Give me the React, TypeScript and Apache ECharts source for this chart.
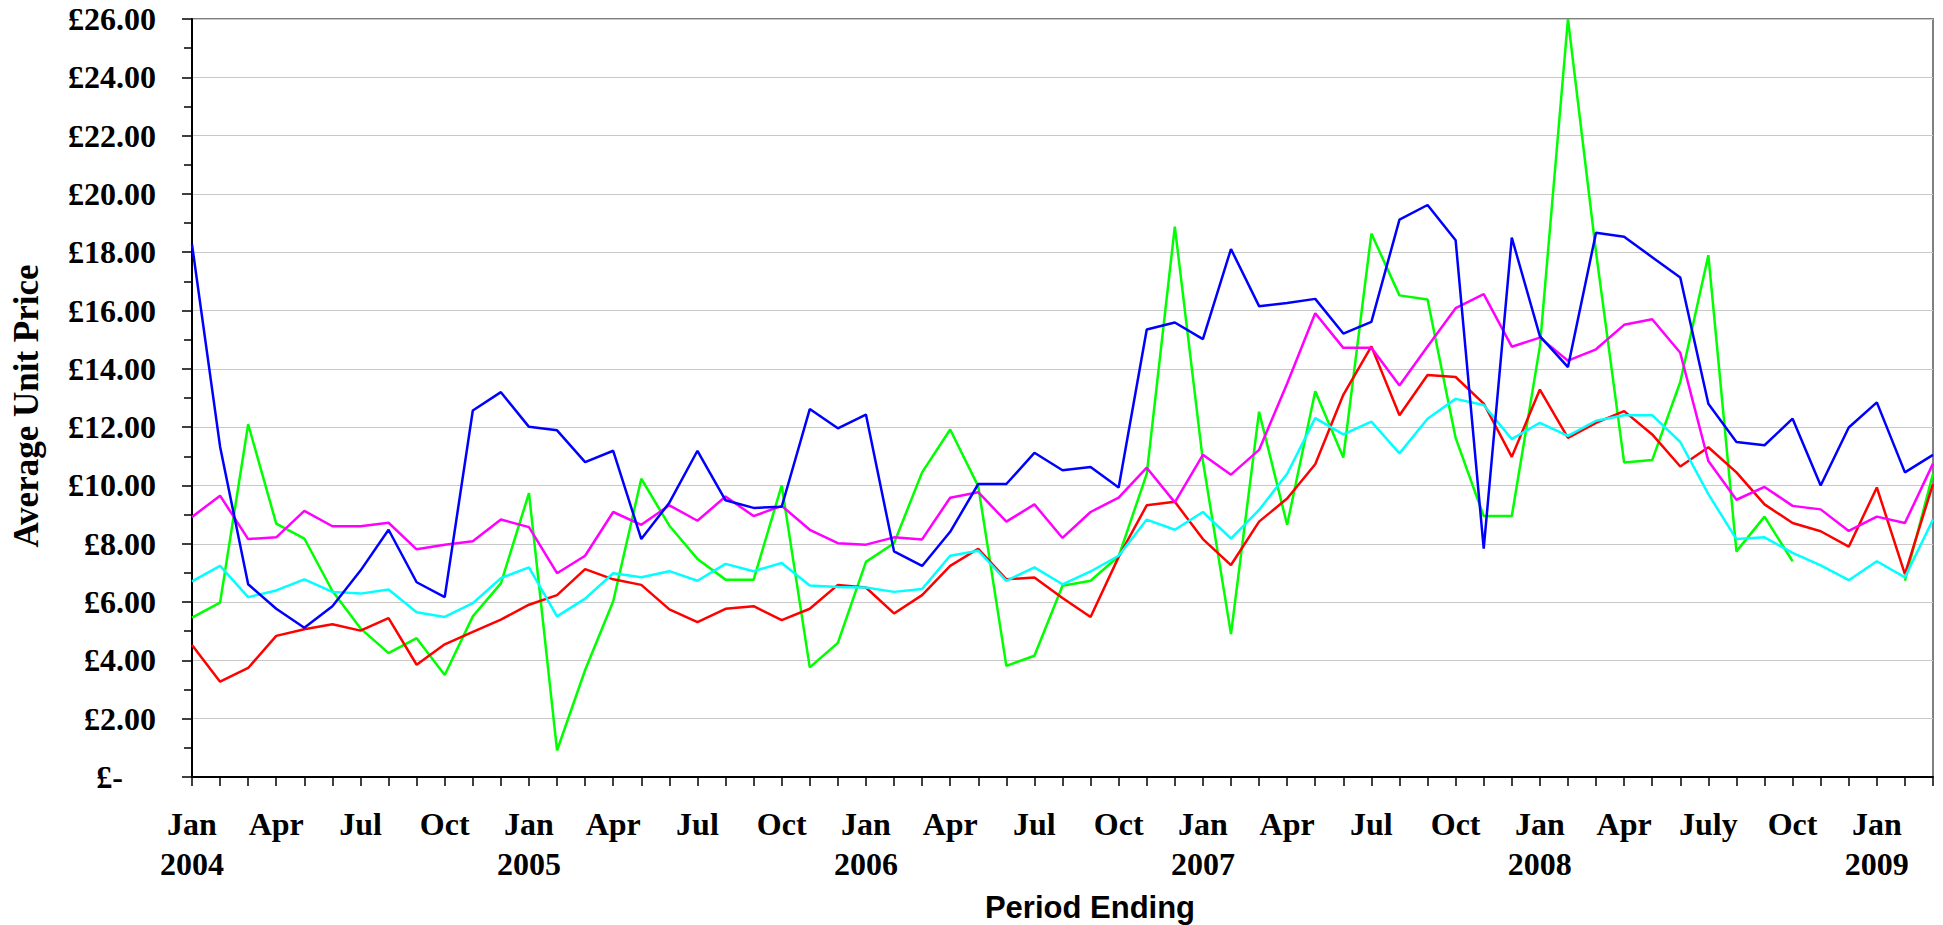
import React, { useEffect, useRef } from "react";
import * as echarts from "echarts";

const categories = [
  "2004-01","2004-02","2004-03","2004-04","2004-05","2004-06","2004-07","2004-08","2004-09","2004-10","2004-11","2004-12",
  "2005-01","2005-02","2005-03","2005-04","2005-05","2005-06","2005-07","2005-08","2005-09","2005-10","2005-11","2005-12",
  "2006-01","2006-02","2006-03","2006-04","2006-05","2006-06","2006-07","2006-08","2006-09","2006-10","2006-11","2006-12",
  "2007-01","2007-02","2007-03","2007-04","2007-05","2007-06","2007-07","2007-08","2007-09","2007-10","2007-11","2007-12",
  "2008-01","2008-02","2008-03","2008-04","2008-05","2008-06","2008-07","2008-08","2008-09","2008-10","2008-11","2008-12",
  "2009-01","2009-02","2009-03",
];

const xTickLabels = [
  "Jan\n2004","Apr","Jul","Oct",
  "Jan\n2005","Apr","Jul","Oct",
  "Jan\n2006","Apr","Jul","Oct",
  "Jan\n2007","Apr","Jul","Oct",
  "Jan\n2008","Apr","July","Oct",
  "Jan\n2009",
];

const blueSeries = [
  18.27, 11.33, 6.61, 5.77, 5.12, 5.86, 7.08, 8.48, 6.68, 6.17, 12.57, 13.20,
  12.01, 11.89, 10.80, 11.19, 8.16, 9.41, 11.19, 9.49, 9.23, 9.27, 12.62, 11.96,
  12.43, 7.74, 7.24, 8.41, 10.05, 10.05, 11.12, 10.52, 10.63, 9.93, 15.35, 15.59,
  15.02, 18.11, 16.15, 16.26, 16.40, 15.21, 15.61, 19.12, 19.62, 18.41, 7.83, 18.50,
  15.12, 14.06, 18.67, 18.53, 17.83, 17.13, 12.80, 11.49, 11.38, 12.29, 10.00, 11.99,
  12.85, 10.45, 11.05,
];

const greenSeries = [
  5.47, 5.98, 12.10, 8.69, 8.18, 6.38, 5.10, 4.25, 4.76, 3.50, 5.51, 6.64,
  9.74, 0.91, 3.67, 6.03, 10.23, 8.62, 7.48, 6.77, 6.77, 10.00, 3.76, 4.60,
  7.38, 8.02, 10.45, 11.92, 9.97, 3.81, 4.16, 6.56, 6.73, 7.57, 10.40, 18.88,
  10.84, 4.90, 12.53, 8.65, 13.23, 10.96, 18.64, 16.52, 16.38, 11.63, 8.95, 8.95,
  14.77, 26.0, 18.0, 10.79, 10.87, 13.55, 17.90, 7.74, 8.93, 7.40, null, null,
  null, 6.73, 10.40,
];

const magentaSeries = [
  8.92, 9.65, 8.16, 8.22, 9.13, 8.60, 8.60, 8.72, 7.81, 7.97, 8.09, 8.83,
  8.57, 6.99, 7.59, 9.09, 8.65, 9.32, 8.79, 9.62, 8.95, 9.30, 8.48, 8.02,
  7.97, 8.22, 8.15, 9.58, 9.77, 8.76, 9.35, 8.20, 9.09, 9.58, 10.61, 9.42,
  11.05, 10.37, 11.22, 13.50, 15.91, 14.72, 14.72, 13.43, 14.77, 16.08, 16.56, 14.76,
  15.07, 14.28, 14.67, 15.51, 15.70, 14.55, 10.84, 9.51, 9.95, 9.30, 9.18, 8.44,
  8.93, 8.71, 10.75,
];

const cyanSeries = [
  6.71, 7.24, 6.17, 6.40, 6.78, 6.35, 6.29, 6.43, 5.65, 5.49, 5.96, 6.82,
  7.19, 5.51, 6.12, 6.99, 6.85, 7.06, 6.73, 7.31, 7.06, 7.34, 6.57, 6.52,
  6.50, 6.35, 6.45, 7.59, 7.76, 6.73, 7.19, 6.61, 7.05, 7.59, 8.83, 8.48,
  9.09, 8.18, 9.16, 10.40, 12.31, 11.75, 12.19, 11.10, 12.29, 12.97, 12.76, 11.59,
  12.15, 11.70, 12.22, 12.41, 12.41, 11.49, 9.70, 8.16, 8.22, 7.69, 7.26, 6.75,
  7.40, 6.85, 8.83,
];

const redSeries = [
  4.53, 3.27, 3.74, 4.84, 5.07, 5.24, 5.02, 5.45, 3.85, 4.55, 4.98, 5.40,
  5.91, 6.24, 7.13, 6.78, 6.59, 5.75, 5.31, 5.77, 5.86, 5.38, 5.77, 6.59,
  6.50, 5.61, 6.24, 7.24, 7.83, 6.78, 6.84, 6.14, 5.49, 7.55, 9.32, 9.44,
  8.16, 7.27, 8.76, 9.55, 10.73, 13.11, 14.77, 12.41, 13.79, 13.72, 12.81, 10.98,
  13.29, 11.63, 12.15, 12.55, 11.75, 10.65, 11.31, 10.45, 9.35, 8.71, 8.43, 7.90,
  9.93, 6.96, 10.05,
];

const yAxisTitle = "Average Unit Price";
const xAxisTitle = "Period Ending";

const SERIF = '"Liberation Serif", "Times New Roman", serif';
const SANS = '"Liberation Sans", Arial, sans-serif';

export default function App() {
  const ref = useRef<HTMLDivElement>(null);

  useEffect(() => {
    if (!ref.current) return;
    const chart = echarts.init(ref.current, undefined, { renderer: "svg" });

    const mk = (name: string, color: string, data: (number | null)[]) => ({
      name,
      type: "line",
      data,
      symbol: "none",
      showSymbol: false,
      connectNulls: false,
      lineStyle: { color, width: 2.5 },
      itemStyle: { color },
    });

    chart.setOption({
      animation: false,
      backgroundColor: "#ffffff",
      grid: {
        left: 192,
        right: 10,
        top: 19,
        bottom: 148,
        show: true,
        borderColor: "#808080",
        borderWidth: 2,
        backgroundColor: "transparent",
      },
      xAxis: {
        type: "category",
        data: categories,
        boundaryGap: false,
        axisLine: { show: true, lineStyle: { color: "#000", width: 2 } },
        axisTick: {
          show: true,
          interval: 0,
          length: 9,
          lineStyle: { color: "#000", width: 1.5 },
        },
        axisLabel: {
          interval: 2,
          margin: 27,
          fontFamily: SERIF,
          fontWeight: "bold",
          fontSize: 32,
          lineHeight: 40,
          color: "#000",
          align: "center",
          formatter: (_v: string, i: number) =>
            i % 3 === 0 ? xTickLabels[i / 3] ?? "" : "",
        },
        splitLine: { show: false },
      },
      yAxis: {
        type: "value",
        min: 0,
        max: 26,
        interval: 2,
        axisLine: { show: true, lineStyle: { color: "#000", width: 2 } },
        axisTick: {
          show: true,
          length: 10,
          lineStyle: { color: "#000", width: 1.5 },
        },
        minorTick: {
          show: true,
          splitNumber: 2,
          length: 8,
          lineStyle: { color: "#000", width: 1.5 },
        },
        splitLine: { show: true, lineStyle: { color: "#c8c8c8", width: 1 } },
        axisLabel: {
          margin: 36,
          fontFamily: SERIF,
          fontWeight: "bold",
          fontSize: 32,
          color: "#000",
          formatter: (v: number) =>
            v === 0 ? "{z|£-}" : "£" + v.toFixed(2),
          rich: {
            z: {
              fontFamily: SERIF,
              fontWeight: "bold",
              fontSize: 32,
              color: "#000",
              padding: [0, 33, 0, 0],
            },
          },
        },
      },
      graphic: [
        {
          type: "text",
          x: 26,
          y: 406,
          rotation: Math.PI / 2,
          style: {
            text: yAxisTitle,
            font: `bold 35px ${SERIF}`,
            fill: "#000",
            textAlign: "center",
            textVerticalAlign: "middle",
          },
        },
        {
          type: "text",
          x: 1090,
          y: 907,
          style: {
            text: xAxisTitle,
            font: `bold 31px ${SANS}`,
            fill: "#000",
            textAlign: "center",
            textVerticalAlign: "middle",
          },
        },
      ],
      series: [
        mk("Green", "#00ff00", greenSeries),
        mk("Red", "#ff0000", redSeries),
        mk("Cyan", "#00ffff", cyanSeries),
        mk("Magenta", "#ff00ff", magentaSeries),
        mk("Blue", "#0000ff", blueSeries),
      ],
    });

    return () => chart.dispose();
  }, []);

  return (
    <div
      ref={ref}
      style={{ position: "fixed", left: 0, top: 0, width: 1943, height: 925 }}
    />
  );
}
